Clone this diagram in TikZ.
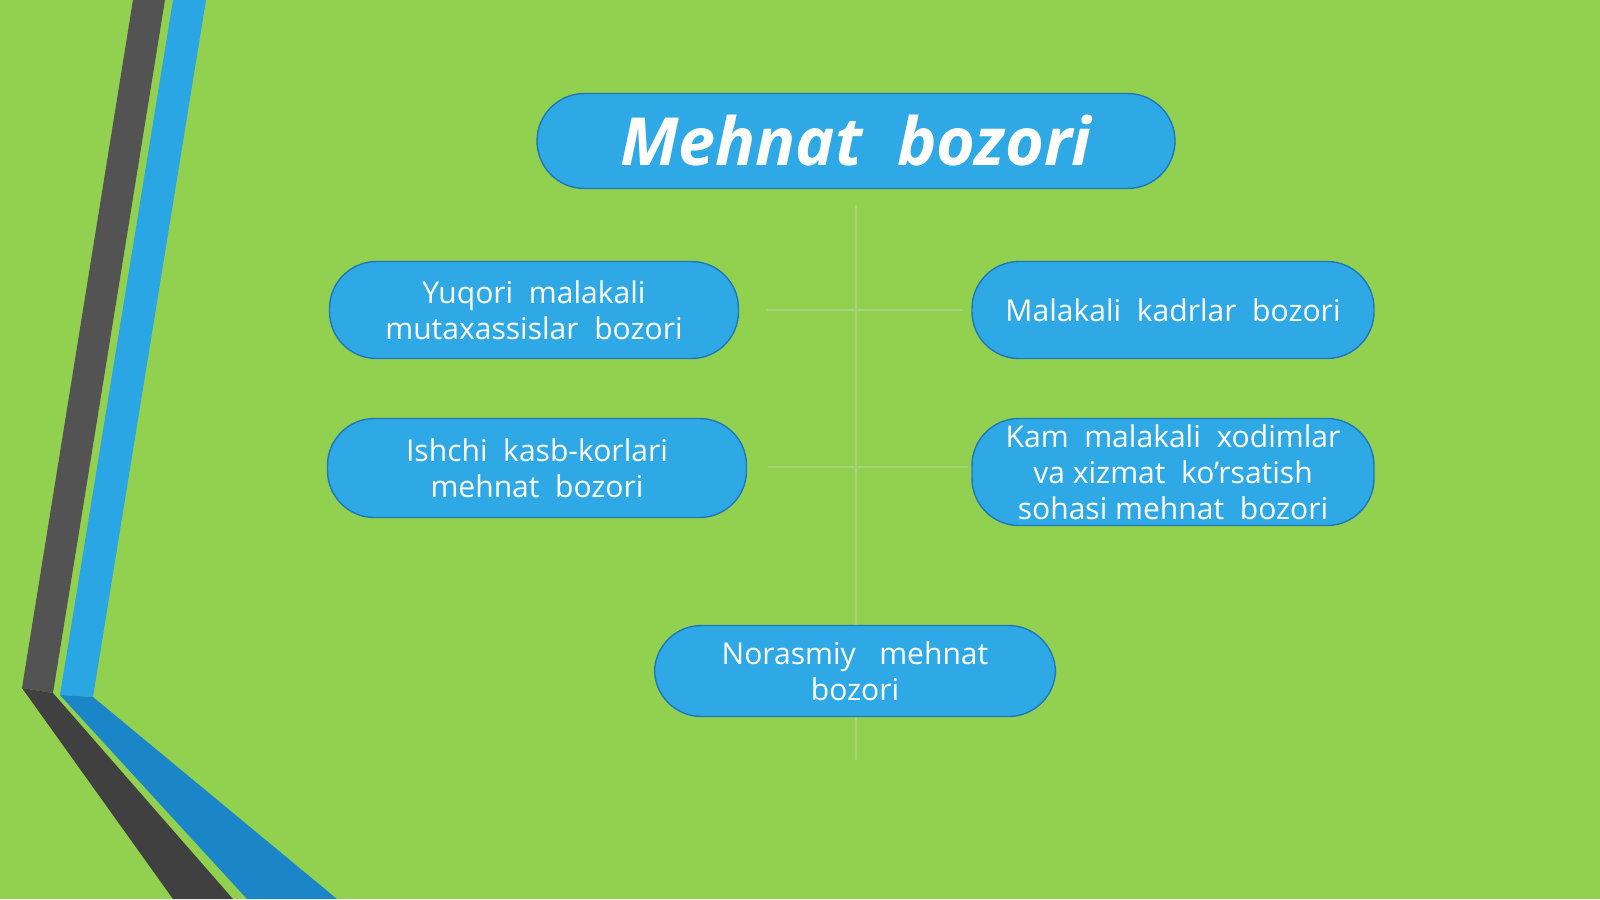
\documentclass[tikz,border=0pt]{standalone}
\usepackage{fontspec}
\setmainfont{Open Sans}
\usetikzlibrary{positioning}

\definecolor{slidegreen}{HTML}{92D050}
\definecolor{boxblue}{HTML}{2EA9E6}
\definecolor{boxedge}{HTML}{1F78B8}
\definecolor{stripegrey}{HTML}{535353}
\definecolor{stripedark}{HTML}{404040}
\definecolor{stripeblue}{HTML}{2AA6E4}
\definecolor{stripedeep}{HTML}{1A86C8}
\definecolor{linkline}{HTML}{A4D57A}

\tikzset{
  market/.style={draw=boxedge, line width=0.4pt, fill=boxblue, text=white,
    rounded corners=4.7mm, align=center, inner sep=0pt,
    font=\fontsize{8.55}{10.2}\selectfont},
  heading/.style={market, rounded corners=4.75mm,
    font=\fontsize{18.9}{22}\selectfont\bfseries\itshape},
  link/.style={draw=linkline, line width=0.5pt}
}

\begin{document}
\begin{tikzpicture}[x=0.1mm, y=-0.1mm]

        \useasboundingbox (0,0) rectangle (1600,899);
        \fill[slidegreen] (0,0) rectangle (1600,899);

        \fill[stripegrey] (133,0) -- (165,0) -- (53,693) -- (22,688) -- cycle;
        \fill[stripedark] (22,688) -- (53,693) -- (233,899) -- (173,899) -- cycle;
        \fill[stripeblue] (173,0) -- (206,0) -- (93,697) -- (60,695) -- cycle;
        \fill[stripedeep] (60,695) -- (93,697) -- (337,899) -- (247,899) -- cycle;

        \coordinate (tail) at (856,760);

        \begin{scope}[every node/.style={market}]
          \node[heading, minimum width=63.8mm, minimum height=9.5mm] (0) at (856,141) {Mehnat~ bozori};
        \end{scope}

        \path[link] (0) edge[shorten <=1.6mm] (tail);

        \begin{scope}[every node/.style={market, minimum height=9.7mm}]
          \node[minimum width=40.9mm] (1) at (534,310) {Yuqori~ malakali\\mutaxassislar~ bozori};
          \node[minimum width=40.2mm] (2) at (1173,310) {Malakali~ kadrlar~ bozori};
          \node[minimum width=41.9mm, minimum height=9.9mm] (3) at (537,468) {Ishchi~ kasb-korlari\\mehnat~ bozori};
          \node[minimum width=40.2mm, minimum height=10.7mm] (4) at (1173,472) {Kam~ malakali~ xodimlar\\va xizmat~ ko'rsatish\\sohasi mehnat~ bozori};
          \node[minimum width=40.1mm, minimum height=9.1mm] (5) at (855,671) {Norasmiy~~ mehnat\\bozori};
        \end{scope}

        \begin{scope}[every edge/.style={link}]
          \path (1) edge[shorten <=2.8mm, shorten >=0.8mm] (2);
          \path (3.east |- 0,467) edge[shorten <=2.1mm, shorten >=0.3mm] (4.west |- 0,467);
        \end{scope}

\end{tikzpicture}
\end{document}
